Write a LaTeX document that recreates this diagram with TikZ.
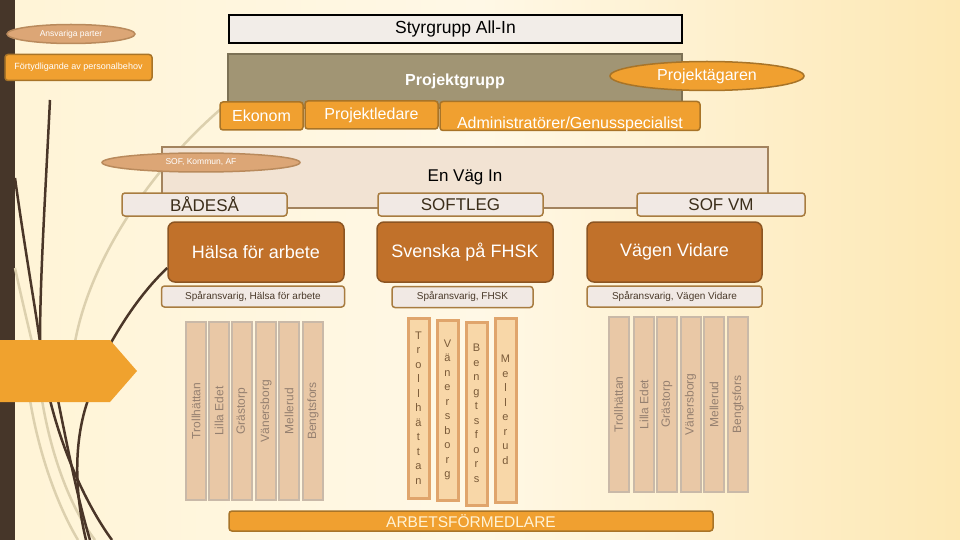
\documentclass[tikz,border=0pt]{standalone}
\usepackage{fontspec}
\setmainfont{Liberation Sans}
\usetikzlibrary{shapes.geometric}

\definecolor{bgL}{HTML}{FFF4D6}
\definecolor{bgM}{HTML}{FFF8E6}
\definecolor{bgR}{HTML}{FDE8B4}
\definecolor{barC}{HTML}{463629}
\definecolor{orangeF}{HTML}{F0A030}
\definecolor{orangeD}{HTML}{A87428}
\definecolor{tanF}{HTML}{DCA676}
\definecolor{tanD}{HTML}{B98A5C}
\definecolor{styrF}{HTML}{F2EDE8}
\definecolor{grpF}{HTML}{A19574}
\definecolor{grpD}{HTML}{7C7155}
\definecolor{vagF}{HTML}{F2E3D3}
\definecolor{vagD}{HTML}{A3835E}
\definecolor{lightF}{HTML}{F1E9E4}
\definecolor{lightD}{HTML}{A87C40}
\definecolor{brownF}{HTML}{C1712A}
\definecolor{brownD}{HTML}{8C5522}
\definecolor{colF}{HTML}{E9C8A6}
\definecolor{colD}{HTML}{C9B9A8}
\definecolor{colT}{HTML}{958070}
\definecolor{midF}{HTML}{F8D7A8}
\definecolor{midD}{HTML}{E0A56C}
\definecolor{midT}{HTML}{7A5A38}
\definecolor{wispD}{HTML}{4A3628}
\definecolor{wispL}{HTML}{DCD0AE}
\definecolor{arrowC}{HTML}{F0A22E}
\definecolor{textD}{HTML}{3C2E1A}
\definecolor{spT}{HTML}{4A3A2A}
\definecolor{afT}{HTML}{FFF3D6}

\newcommand\fsz[1]{\fontsize{#1}{#1}\selectfont}

\tikzset{
  ell/.style={ellipse, draw=tanD, fill=tanF, line width=1.5pt, inner sep=0pt, text=white},
  obox/.style={rectangle, rounded corners=3pt, draw=orangeD, fill=orangeF, line width=1.5pt, inner sep=0pt, text=white},
  lbox/.style={rectangle, rounded corners=3pt, draw=lightD, fill=lightF, line width=1.5pt, inner sep=0pt, text=textD},
  bbox/.style={rectangle, rounded corners=7pt, draw=brownD, fill=brownF, line width=1.5pt, inner sep=0pt, text=white, font=\fsz{18}},
  spbox/.style={rectangle, rounded corners=3pt, draw=lightD, fill=lightF, line width=1.5pt, inner sep=0pt, text=spT, font=\fsz{10}, minimum height=21pt},
  colbox/.style={rectangle, rotate=90, draw=colD, fill=colF, line width=2pt, inner sep=0pt, text=colT, font=\fsz{12}, minimum height=20pt},
  midbox/.style={rectangle, draw=midD, fill=midF, line width=3pt, inner sep=0pt, text=midT, align=center, font=\fontsize{11}{14.5}\selectfont, minimum width=21pt},
  wispdark/.style={draw=wispD, line width=2.5pt},
  wisplight/.style={draw=wispL, line width=2.5pt},
}

\begin{document}
\begin{tikzpicture}[x=1pt,y=-1pt]
\useasboundingbox (0,0) rectangle (960,540);
\shade[left color=bgL, right color=bgR, middle color=bgM] (0,0) rectangle (960,540);
\fill[barC] (0,0) rectangle (15,540);

% decorative wisps
\draw[wisplight] (222,108) .. controls (150,170) and (90,260) .. (75,342);
\draw[wisplight] (15,268) .. controls (22,300) and (28,325) .. (32,342);
\draw[wisplight] (30,400) .. controls (40,460) and (60,510) .. (78,540);
\draw[wisplight] (42,400) .. controls (52,460) and (72,510) .. (95,540);
\draw[wispdark] (50,100) .. controls (45,200) and (40,280) .. (40,342);
\draw[wispdark] (15,178) .. controls (25,250) and (34,300) .. (40,342);
\draw[wispdark] (50,400) .. controls (65,460) and (90,510) .. (112,540);
\draw[wispdark] (58,400) .. controls (68,450) and (78,500) .. (90,540);
\draw[wispdark] (88,400) .. controls (74,440) and (74,490) .. (86,540);

% top
\node[ell, minimum width=128pt, minimum height=19pt, font=\fsz{8.5}] (ansv) at (71,34) {Ansvariga parter};
\node[obox, minimum width=147pt, minimum height=26pt, font=\fsz{9}] (fort) at (78.5,67.5) {Förtydligande av personalbehov};
\node[rectangle, draw=black, fill=styrF, line width=2pt, minimum width=453pt, minimum height=28pt, inner sep=0pt, font=\fsz{17.5}] (styr) at (455.5,29) {Styrgrupp All-In};
\node[rectangle, draw=grpD, fill=grpF, line width=1.5pt, minimum width=454pt, minimum height=54pt, inner sep=0pt, text=white, font=\bfseries\fsz{16}] (grp) at (455,81) {Projektgrupp};
\node[ell, draw=orangeD, fill=orangeF, minimum width=194pt, minimum height=29pt, font=\fsz{16}] (owner) at (707,76) {Projektägaren};
\node[obox, minimum width=83pt, minimum height=28pt, font=\fsz{16}] (ekon) at (261.5,116) {Ekonom};
\node[obox, minimum width=133pt, minimum height=28pt, font=\fsz{16}] (pled) at (371.5,115) {Projektledare};
\node[obox, minimum width=260pt, minimum height=29pt] (adm) at (570,116) {};
\node[anchor=base, text=white, font=\fsz{16}, inner sep=0pt] (admtxt) at (570,129) {Administratörer/Genusspecialist};

% En Väg In
\node[rectangle, draw=vagD, fill=vagF, line width=1.5pt, minimum width=606pt, minimum height=61pt, inner sep=0pt, font=\fsz{17}] (vag) at (465,177.5) {En Väg In};
\node[ell, minimum width=198pt, minimum height=19pt, font=\fsz{8.5}] (sof) at (201,162.5) {SOF, Kommun, AF};
\node[lbox, minimum width=165pt, minimum height=23pt, font=\fsz{17}] (bad) at (204.5,204.5) {BÅDESÅ};
\node[lbox, minimum width=165pt, minimum height=23pt, font=\fsz{17}] (softleg) at (460.5,204.5) {SOFTLEG};
\node[lbox, minimum width=168pt, minimum height=23pt, font=\fsz{17}] (sofvm) at (721,204.5) {SOF VM};

% tracks
\node[bbox, minimum width=176pt, minimum height=60pt] (hal) at (256,252) {Hälsa för arbete};
\node[bbox, minimum width=176pt, minimum height=60pt] (sve) at (465,252) {Svenska på FHSK};
\node[bbox, minimum width=175pt, minimum height=60pt] (vid) at (674.5,252) {Vägen Vidare};
\node[spbox, minimum width=183pt] (sphal) at (253,296.5) {Spåransvarig, Hälsa för arbete};
\node[spbox, minimum width=141pt] (spsve) at (462.5,297) {Spåransvarig, FHSK};
\node[spbox, minimum width=175pt] (spvid) at (674.5,296.5) {Spåransvarig, Vägen Vidare};

% left columns
\node[colbox, minimum width=178pt] (la) at (196,411) {Trollhättan};
\node[colbox, minimum width=178pt] (lb) at (219,411) {Lilla Edet};
\node[colbox, minimum width=178pt] (lc) at (242,411) {Grästorp};
\node[colbox, minimum width=178pt] (ld) at (266,411) {Vänersborg};
\node[colbox, minimum width=178pt] (le) at (289,411) {Mellerud};
\node[colbox, minimum width=178pt] (lf) at (313,411) {Bengtsfors};

% middle columns
\node[midbox, minimum height=180pt] (ma) at (418.5,408) {T\\r\\o\\l\\l\\h\\ä\\t\\t\\a\\n};
\node[midbox, minimum height=180pt] (mb) at (447.5,410) {V\\ä\\n\\e\\r\\s\\b\\o\\r\\g};
\node[midbox, minimum height=183pt] (mc) at (476.5,413.5) {B\\e\\n\\g\\t\\s\\f\\o\\r\\s};
\node[midbox, minimum height=184pt] (md) at (505.5,410) {M\\e\\l\\l\\e\\r\\u\\d};

% right columns
\node[colbox, minimum width=175pt] (ra) at (618.5,404.5) {Trollhättan};
\node[colbox, minimum width=175pt] (rb) at (644,404.5) {Lilla Edet};
\node[colbox, minimum width=175pt] (rc) at (667,404.5) {Grästorp};
\node[colbox, minimum width=175pt] (rd) at (690.5,404.5) {Vänersborg};
\node[colbox, minimum width=175pt] (re) at (714,404.5) {Mellerud};
\node[colbox, minimum width=175pt] (rf) at (738,404.5) {Bengtsfors};

% bottom
\node[obox, minimum width=484pt, minimum height=20pt, text=afT, font=\fsz{15.5}] (af) at (471,521) {ARBETSFÖRMEDLARE};

% wisp to Hälsa and arrow shape
\draw[wispdark] (108,348) .. controls (128,312) and (148,286) .. ([yshift=-16pt]hal.west);
\fill[arrowC] (0,340) -- (110,340) -- (137,371) -- (110,402) -- (0,402) -- cycle;
\end{tikzpicture}
\end{document}
